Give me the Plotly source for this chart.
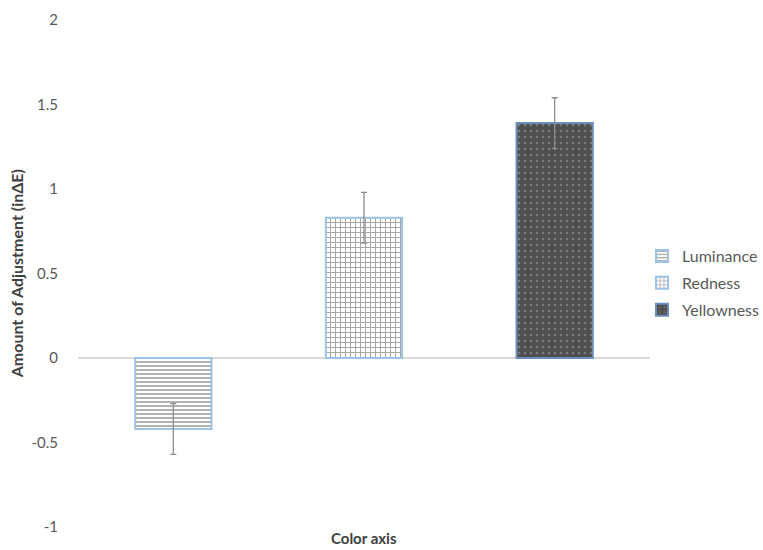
import plotly.graph_objects as go

categories = ["Luminance", "Redness", "Yellowness"]
values = [-0.42, 0.83, 1.39]
errors = [0.15, 0.15, 0.15]
x_positions = [0, 1, 2]
tick_values = [-1, -0.5, 0, 0.5, 1, 1.5, 2]
tick_labels = ["-1", "-0.5", "0", "0.5", "1", "1.5", "2"]

styles = [
    dict(shape="-", fg="#555555", bg="#ffffff", line="#9dc3e6", size=4, sol=0.45),
    dict(shape="+", fg="#505050", bg="#ffffff", line="#9dc3e6", size=5, sol=0.36),
    dict(shape=".", fg="#a6a6a6", bg="#4f4f4f", line="#6a8fbf", size=6, sol=0.15),
]

fig = go.Figure()
for cat, x, v, e, s in zip(categories, x_positions, values, errors, styles):
    fig.add_trace(go.Bar(
        x=[x], y=[v], name=cat, width=0.4, legendgroup=cat,
        marker=dict(
            color=s["bg"],
            line=dict(color=s["line"], width=2),
            pattern=dict(shape=s["shape"], fgcolor=s["fg"], bgcolor=s["bg"],
                         size=s["size"], solidity=s["sol"], fillmode="overlay"),
        ),
        error_y=dict(type="data", array=[e], color="#8c8c8c", thickness=1.3, width=3),
    ))

fig.update_layout(
    width=763, height=550,
    margin=dict(l=78, r=113, t=20, b=23, autoexpand=False),
    paper_bgcolor="white", plot_bgcolor="white",
    font=dict(family="Lato, Open Sans, sans-serif", color="#595959", size=15),
    showlegend=True,
    legend=dict(x=0.986, y=0.481, xanchor="left", yanchor="middle",
                font=dict(size=16, color="#595959"), itemwidth=30,
                traceorder="grouped", tracegroupgap=3,
                bgcolor="rgba(0,0,0,0)"),
    barmode="overlay",
    xaxis=dict(range=[-0.5, 2.5], showticklabels=False, showgrid=False,
               zeroline=False, showline=False, ticks=""),
    yaxis=dict(range=[-1, 2], tickvals=tick_values, ticktext=tick_labels,
               showgrid=False, zeroline=True, zerolinecolor="#d9d9d9",
               zerolinewidth=1.5, showline=False, ticks="",
               ticklabelstandoff=19, tickfont=dict(size=15, color="#595959")),
    annotations=[
        dict(text="<b>Amount of Adjustment (inΔE)</b>", x=-0.107, y=0.5,
             xref="paper", yref="paper", showarrow=False, textangle=-90,
             xanchor="center", yanchor="middle",
             font=dict(size=16, color="#404040")),
        dict(text="<b>Color axis</b>", x=0.5, y=-0.022, xref="paper", yref="paper",
             showarrow=False, xanchor="center", yanchor="middle",
             font=dict(size=15, color="#404040")),
    ],
)
fig.write_html("out.html", config={"displayModeBar": False},
               post_script="document.body.style.margin='0px';")
